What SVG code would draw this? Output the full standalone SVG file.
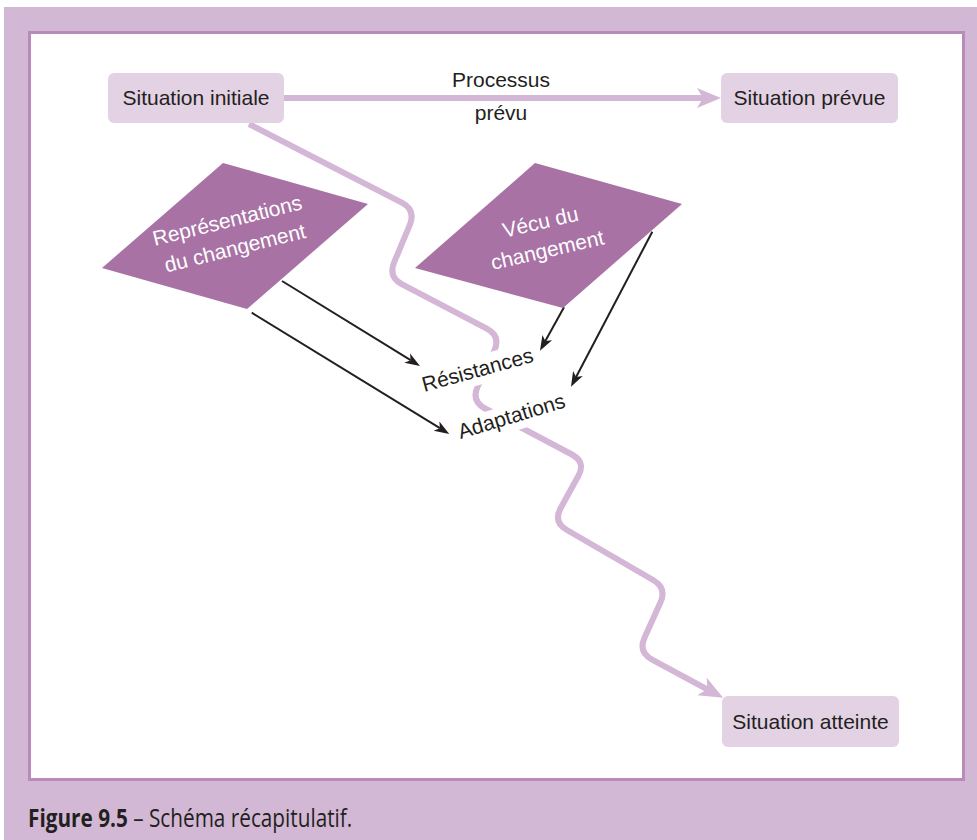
<svg xmlns="http://www.w3.org/2000/svg" width="977" height="840" viewBox="0 0 977 840">
  <style>
    .lbl { font-family: "Liberation Sans", Arial, Helvetica, sans-serif; font-size: 21px; fill: #231F20; text-anchor: middle; }
    .wht { fill: #FFFFFF; }
    .box { fill: #E3D1E4; }
    .dia { fill: #A872A5; }
    .flow { fill: none; stroke: #D4B7D6; stroke-width: 6; stroke-linejoin: round; }
    .link { fill: none; stroke: #231F20; stroke-width: 2; }
    .cap { font-family: "Open Sans", "Noto Sans", "Liberation Sans", sans-serif; font-size: 25px; fill: #231F20; }
  </style>
  <defs>
    <marker id="flowHead" markerUnits="userSpaceOnUse" markerWidth="40" markerHeight="40" viewBox="-10 -20 40 40" refX="0" refY="0" orient="auto" overflow="visible">
      <path d="M18,0 L-6,-10 L0,0 L-6,10 Z" fill="#D4B7D6"/>
    </marker>
    <marker id="linkHead" markerUnits="userSpaceOnUse" markerWidth="30" markerHeight="30" viewBox="-10 -15 30 30" refX="0" refY="0" orient="auto" overflow="visible">
      <path d="M11,0 L-4,-5.5 L0,0 L-4,5.5 Z" fill="#231F20"/>
    </marker>
  </defs>

  <!-- frame -->
  <rect x="4" y="7" width="973" height="833" fill="#D3B8D5"/>
  <rect x="29.5" y="32.5" width="934" height="747" fill="#FFFFFF" stroke="#BA8ABA" stroke-width="3"/>

  <!-- connectors -->
  <g id="connectors">
    <path class="flow" d="M284,98 L703,98" marker-end="url(#flowHead)"/>
    <path class="flow" d="M249,124 L401.8,202.7 Q416,210 409.8,224.8 L394.2,262.2 Q388,277 402.2,284.4 L486.8,328.6 Q501,336 494.3,350.5 L477.7,386.5 Q471,401 485.1,408.5 L571.9,454.5 Q586,462 578.3,476 L560.7,508 Q553,522 566.9,530 L653.1,580 Q667,588 660.4,602.6 L644.6,637.4 Q638,652 652.1,659.6 L707.3,689.3" marker-end="url(#flowHead)"/>
    <path class="link" d="M282,281 L410.6,360.2" marker-end="url(#linkHead)"/>
    <path class="link" d="M251.7,312.7 L439.9,428.2" marker-end="url(#linkHead)"/>
    <path class="link" d="M564,307.3 L545.3,341.1" marker-end="url(#linkHead)"/>
    <path class="link" d="M652.3,231.7 L576.1,377" marker-end="url(#linkHead)"/>
  </g>

  <!-- nodes -->
  <g id="situation-initiale">
    <rect class="box" x="108" y="73" width="176" height="50" rx="6"/>
    <text class="lbl" x="196" y="105">Situation initiale</text>
  </g>
  <g id="situation-prevue">
    <rect class="box" x="721" y="73" width="177" height="50" rx="6"/>
    <text class="lbl" x="809.5" y="105">Situation prévue</text>
  </g>
  <g id="processus-prevu">
    <text class="lbl" x="501" y="86.5">Processus</text>
    <text class="lbl" x="501" y="120">prévu</text>
  </g>
  <g id="representations">
    <polygon class="dia" points="223,163 368,204 247,309 102,268"/>
    <text class="lbl wht" x="229" y="227.5" transform="rotate(-14 229 227.5)">Représentations</text>
    <text class="lbl wht" x="236.7" y="255" transform="rotate(-14 236.7 255)">du changement</text>
  </g>
  <g id="vecu">
    <polygon class="dia" points="535,163 682,204 563,308 415,268"/>
    <text class="lbl wht" x="542" y="229" transform="rotate(-13 542 229)">Vécu du</text>
    <text class="lbl wht" x="549" y="257" transform="rotate(-13 549 257)">changement</text>
  </g>
  <g id="resistances" transform="rotate(-15.4 479.5 376.7)">
    <rect x="419.5" y="355.7" width="120" height="29" fill="#FFFFFF"/>
    <text class="lbl" x="479.5" y="376.7">Résistances</text>
  </g>
  <g id="adaptations" transform="rotate(-16.8 513.5 423)">
    <rect x="455.5" y="404" width="116" height="27" fill="#FFFFFF"/>
    <text class="lbl" x="513.5" y="423">Adaptations</text>
  </g>
  <g id="situation-atteinte">
    <rect class="box" x="722" y="696" width="177" height="51" rx="6"/>
    <text class="lbl" x="810.5" y="729">Situation atteinte</text>
  </g>

  <!-- caption -->
  <text class="cap" transform="translate(28 826.5) scale(0.83 1)" x="0" y="0"><tspan font-weight="bold">Figure 9.5</tspan> – Schéma récapitulatif.</text>
</svg>
